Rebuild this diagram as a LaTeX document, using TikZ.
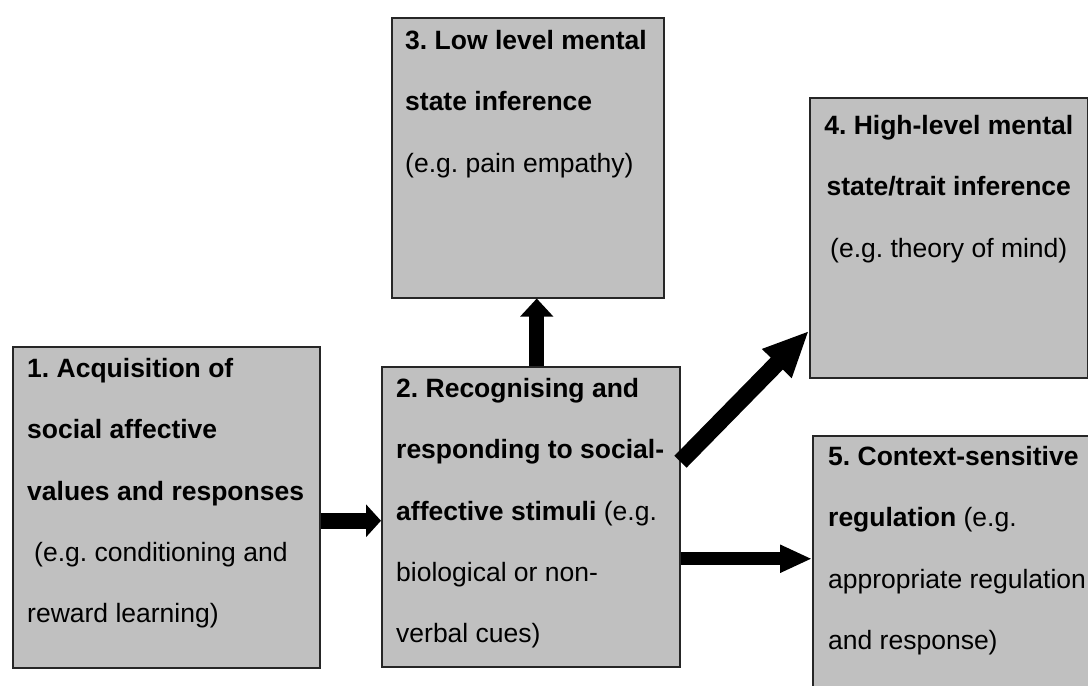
\documentclass[tikz,border=0pt]{standalone}
\usepackage{fontspec}
\setmainfont{Liberation Sans}
\usetikzlibrary{arrows.meta}
\frenchspacing
\definecolor{boxgray}{RGB}{192,192,192}
\tikzset{box/.style={draw=black!85, line width=1.5pt, fill=boxgray, anchor=north west, inner sep=0pt}}
\tikzset{txt/.style={anchor=north west, inner sep=0pt, align=left, font=\fontsize{26.5}{61.3}\selectfont}}
\tikzset{fatarrow/.style={line width=15pt, -{Triangle[length=18pt, width=32pt]}}}

\begin{document}
\begin{tikzpicture}[x=1pt, y=-1pt]
    \useasboundingbox (0, 0) rectangle (1088, 686);
    \clip (0, 0) rectangle (1088, 686);
    \node[box, minimum width=307pt, minimum height=321pt](b1) at (12, 346){};
    \node[box, minimum width=298pt, minimum height=300pt](b2) at (381, 366){};
    \node[box, minimum width=272pt, minimum height=280pt](b3) at (391, 17){};
    \node[box, minimum width=278pt, minimum height=280pt](b4) at (809, 97){};
    \node[box, minimum width=290pt, minimum height=290pt](b5) at (812, 435){};
    \node[txt](t1) at ([shift={(15, 12)}]b1.north west){\textbf{1. Acquisition of}\\ \textbf{social affective}\\ \textbf{values and responses}\\ \hspace*{7pt}(e.g. conditioning and\\ reward learning)};
    \node[txt](t2) at ([shift={(15, 12)}]b2.north west){\textbf{2. Recognising and}\\ \textbf{responding to social-}\\ \textbf{affective stimuli} (e.g.\\ biological or non-\\ verbal cues)};
    \node[txt](t3) at ([shift={(14, 13)}]b3.north west){\textbf{3. Low level mental}\\ \textbf{state inference}\\ (e.g. pain empathy)};
    \node[txt, anchor=north, align=center](t4) at ([shift={(0, 18)}]b4.north){\textbf{4. High-level mental}\\ \textbf{state/trait inference}\\ (e.g. theory of mind)};
    \node[txt](t5) at ([shift={(16, 11)}]b5.north west){\textbf{5. Context-sensitive}\\ \textbf{regulation} (e.g.\\ appropriate regulation\\ and response)};
    \draw[fatarrow, line width=16pt, -{Triangle[length=15pt, width=32pt]}]([yshift=-13.5pt]b1.east) -- ([yshift=-13.5pt]b1.east -| b2.west);
    \draw[fatarrow]([xshift=6pt]b2.north) -- ([xshift=6pt]b2.north |- b3.south);
    \draw[fatarrow, line width=17pt, -{Triangle[length=46pt, width=38pt]}]([yshift=55pt]b2.east) -- ([yshift=-93pt]b4.west);
    \draw[fatarrow, line width=13pt, -{Triangle[length=32pt, width=26pt]}]([yshift=-42pt]b2.east) -- ([yshift=-42pt]b2.east -| b5.west);
\end{tikzpicture}
\end{document}
